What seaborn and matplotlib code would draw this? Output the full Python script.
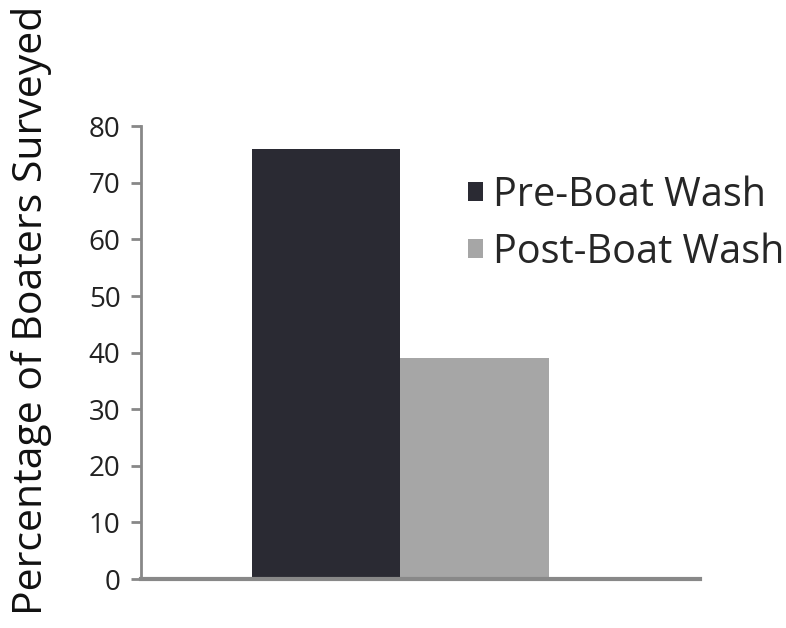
import matplotlib
matplotlib.use("Agg")
import matplotlib.pyplot as plt
import seaborn as sns
import pandas as pd
from matplotlib.patches import Patch

groups = ["Pre-Boat Wash", "Post-Boat Wash"]
values = [76, 39]
category = ["All"]
colors = ["#2a2a33", "#a6a6a6"]

df = pd.DataFrame({"cat": category * len(groups), "group": groups, "value": values})

sns.set_style("white")
plt.rcParams["font.family"] = ["Open Sans", "DejaVu Sans"]

fig = plt.figure(figsize=(7.86, 6.28), dpi=100)
ax = fig.add_axes([0.179, 0.078, 0.711, 0.721])
sns.barplot(data=df, x="cat", y="value", hue="group",
            palette=colors, ax=ax, width=0.8, saturation=1, legend=False,
            edgecolor="none", linewidth=0)

ax.set_ylim(0, 80)
ax.set_yticks(range(0, 81, 10))
ax.set_xlim(-0.70, 0.806)
ax.set_xticks([])
ax.set_xlabel("")
ax.set_ylabel("Percentage of Boaters Surveyed", fontsize=29.5, color="#111111")
ax.yaxis.set_label_coords(-0.158, 0.594)
ax.tick_params(axis="y", labelsize=20, colors="#888888", labelcolor="#222222",
               length=7.5, width=2, direction="out", left=True, pad=7)
for s in ["top", "right"]:
    ax.spines[s].set_visible(False)
ax.spines["left"].set_color("#888888")
ax.spines["left"].set_linewidth(2)
ax.spines["bottom"].set_color("#888888")
ax.spines["bottom"].set_linewidth(3)

handles = [Patch(facecolor=c, edgecolor="none", label=g) for g, c in zip(groups, colors)]
leg = ax.legend(handles=handles, loc="upper left", bbox_to_anchor=(0.585, 0.892),
                frameon=False, fontsize=28.5, handlelength=0.38, handleheight=0.38,
                handletextpad=0.25, labelspacing=0.42, borderpad=0, borderaxespad=0)

fig.savefig("out.png", dpi=100, facecolor="white")
